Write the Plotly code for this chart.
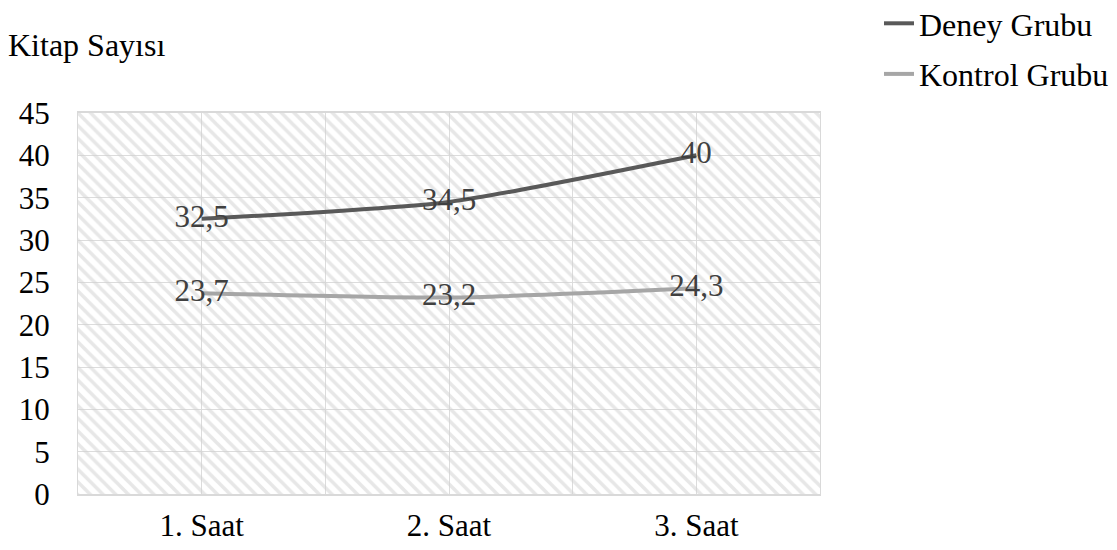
import plotly.graph_objects as go

categories = ["1. Saat", "2. Saat", "3. Saat"]
deney = [32.5, 34.5, 40]
kontrol = [23.7, 23.2, 24.3]
deney_labels = ["32,5", "34,5", "40"]
kontrol_labels = ["23,7", "23,2", "24,3"]
y_ticks = [0, 5, 10, 15, 20, 25, 30, 35, 40, 45]

FONT = "Liberation Serif, Times New Roman, serif"
xs = list(range(len(categories)))
x_range = [-0.5, len(categories) - 0.5]
y_range = [y_ticks[0], y_ticks[-1]]

fig = go.Figure()

# hatched plot-area background
fig.add_trace(go.Scatter(
    x=[x_range[0], x_range[1], x_range[1], x_range[0], x_range[0]],
    y=[y_range[0], y_range[0], y_range[1], y_range[1], y_range[0]],
    mode="lines", line=dict(width=0), fill="toself",
    fillcolor="rgba(0,0,0,0)",
    fillpattern=dict(shape="\\", fgcolor="#d0d0d0", bgcolor="rgba(0,0,0,0)", size=9, solidity=0.4),
    hoverinfo="skip", showlegend=False,
))

fig.add_trace(go.Scatter(
    x=xs, y=deney, name="Deney Grubu", mode="lines+text",
    line=dict(color="#595959", width=4, shape="spline", smoothing=0.6),
    text=deney_labels, textposition="middle center",
    textfont=dict(family=FONT, size=31, color="#404040"),
    legendgroup="a",
))
fig.add_trace(go.Scatter(
    x=xs, y=kontrol, name="Kontrol Grubu", mode="lines+text",
    line=dict(color="#a6a6a6", width=4, shape="spline", smoothing=0.6),
    text=kontrol_labels, textposition="middle center",
    textfont=dict(family=FONT, size=31, color="#404040"),
    legendgroup="b",
))

# plot area in figure px: x 70..812, y 105..486
fig.update_layout(
    width=1117, height=550,
    margin=dict(l=70, r=305, t=105, b=64, autoexpand=False),
    paper_bgcolor="white", plot_bgcolor="white",
    font=dict(family=FONT, size=31, color="black"),
    title=dict(text="Kitap Sayısı", x=0, xanchor="left", xref="container",
               y=1 - 37 / 550, yanchor="middle", yref="container",
               font=dict(family=FONT, size=32, color="black")),
    legend=dict(x=(871 - 70) / 742, xanchor="left", y=(486 + 12) / 381, yanchor="top",
                font=dict(family=FONT, size=32, color="black"),
                tracegroupgap=6, itemwidth=30, bgcolor="rgba(0,0,0,0)"),
    showlegend=True,
    xaxis=dict(range=x_range, tickvals=xs, ticktext=categories, showgrid=True,
               gridcolor="#dcdcdc", gridwidth=1, zeroline=False, automargin=False,
               showline=True, linecolor="#d9d9d9", linewidth=2, mirror=True,
               ticks="", ticklabelstandoff=3,
               minor=dict(tickvals=[x - 0.5 for x in xs] + [xs[-1] + 0.5], showgrid=True,
                          gridcolor="#dcdcdc", gridwidth=1),
               tickfont=dict(family=FONT, size=31, color="black")),
    yaxis=dict(range=y_range, tickvals=y_ticks, showgrid=True, gridcolor="#dcdcdc",
               gridwidth=1, zeroline=False, showline=True, linecolor="#d9d9d9",
               automargin=False,
               linewidth=1, mirror=True, ticks="", ticklabelstandoff=21,
               tickfont=dict(family=FONT, size=31, color="black")),
)

fig.write_html("out.html")
